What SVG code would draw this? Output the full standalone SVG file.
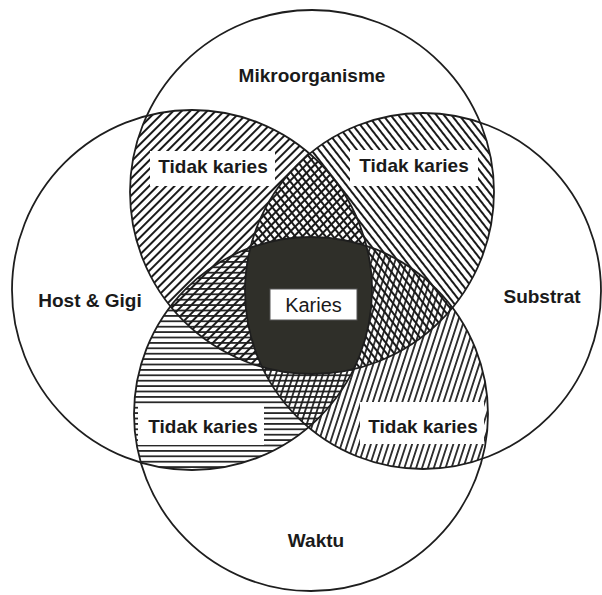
<svg xmlns="http://www.w3.org/2000/svg" width="602" height="595" viewBox="0 0 602 595">
  <style>
    .ring { fill: none; stroke: #1e1e1e; stroke-width: 1.8; }
    .lbl { font-family: "Liberation Sans", Arial, sans-serif; font-weight: bold; font-size: 19px; fill: #1a1a1a; text-anchor: middle; }
    .reg { font-family: "Liberation Sans", Arial, sans-serif; font-size: 20px; fill: #1a1a1a; text-anchor: middle; }
    .box { fill: #ffffff; stroke: none; }
  </style>
  <defs>
    <clipPath id="cT"><circle cx="312" cy="192" r="182"/></clipPath>
    <clipPath id="cL"><circle cx="192" cy="290" r="180"/></clipPath>
    <clipPath id="cR"><circle cx="423" cy="291" r="178"/></clipPath>
    <clipPath id="cB"><circle cx="311" cy="414" r="177"/></clipPath>
    <pattern id="pTL" width="6" height="6" patternUnits="userSpaceOnUse" patternTransform="rotate(45)">
      <line x1="3" y1="-1" x2="3" y2="7" stroke="#1a1a1a" stroke-width="2"/>
    </pattern>
    <pattern id="pTR" width="6" height="6" patternUnits="userSpaceOnUse" patternTransform="rotate(-38)">
      <line x1="3" y1="-1" x2="3" y2="7" stroke="#1a1a1a" stroke-width="2"/>
    </pattern>
    <pattern id="pLB" width="6" height="5.4" patternUnits="userSpaceOnUse">
      <line x1="-1" y1="2.7" x2="7" y2="2.7" stroke="#1a1a1a" stroke-width="1.7"/>
    </pattern>
    <pattern id="pRB" width="5.6" height="6" patternUnits="userSpaceOnUse" patternTransform="rotate(18)">
      <line x1="2.8" y1="-1" x2="2.8" y2="7" stroke="#1a1a1a" stroke-width="1.7"/>
    </pattern>
  </defs>

  <rect width="602" height="595" fill="#ffffff"/>

  <g id="overlaps">
    <!-- Mikroorganisme ∩ Host & Gigi -->
    <g clip-path="url(#cT)"><circle cx="192" cy="290" r="180" fill="url(#pTL)"/></g>
    <!-- Mikroorganisme ∩ Substrat -->
    <g clip-path="url(#cT)"><circle cx="423" cy="291" r="178" fill="url(#pTR)"/></g>
    <!-- Host & Gigi ∩ Waktu -->
    <g clip-path="url(#cL)"><circle cx="311" cy="414" r="177" fill="url(#pLB)"/></g>
    <!-- Substrat ∩ Waktu -->
    <g clip-path="url(#cR)"><circle cx="311" cy="414" r="177" fill="url(#pRB)"/></g>
    <!-- all four -->
    <g clip-path="url(#cT)"><g clip-path="url(#cL)"><g clip-path="url(#cR)">
      <circle cx="311" cy="414" r="177" fill="#2f2f29"/>
    </g></g></g>
  </g>

  <g id="label-boxes">
    <rect class="box" x="150" y="151" width="125" height="35"/>
    <rect class="box" x="350" y="150" width="128" height="36"/>
    <rect class="box" x="138" y="404" width="126" height="41"/>
    <rect class="box" x="360" y="402" width="124" height="42"/>
  </g>

  <g id="mikroorganisme">
    <circle class="ring" cx="312" cy="192" r="182"/>
    <text class="lbl" x="312" y="82">Mikroorganisme</text>
  </g>
  <g id="host-gigi">
    <circle class="ring" cx="192" cy="290" r="180"/>
    <text class="lbl" x="90" y="307">Host &amp; Gigi</text>
  </g>
  <g id="substrat">
    <circle class="ring" cx="423" cy="291" r="178"/>
    <text class="lbl" x="542" y="303">Substrat</text>
  </g>
  <g id="waktu">
    <circle class="ring" cx="311" cy="414" r="177"/>
    <text class="lbl" x="316" y="547">Waktu</text>
  </g>

  <g id="tidak-karies-tl"><text class="lbl" x="213" y="173">Tidak karies</text></g>
  <g id="tidak-karies-tr"><text class="lbl" x="414" y="172">Tidak karies</text></g>
  <g id="tidak-karies-bl"><text class="lbl" x="203" y="433">Tidak karies</text></g>
  <g id="tidak-karies-br"><text class="lbl" x="423" y="433">Tidak karies</text></g>

  <g id="karies">
    <rect x="270" y="289" width="87" height="31" fill="#ffffff" stroke="#555" stroke-width="1"/>
    <text class="reg" x="313.5" y="312">Karies</text>
  </g>

  <g id="connectors"/>
</svg>
